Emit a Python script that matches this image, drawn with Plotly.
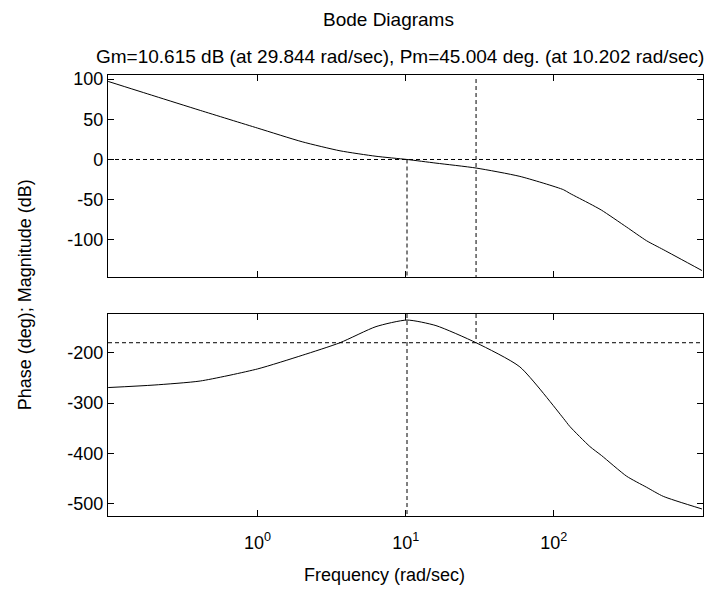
import plotly.graph_objects as go

# Open-loop frequency response (rad/sec, dB, deg)
freq = [0.098, 0.2, 0.41, 1.0, 2.0, 3.6, 6.3, 10.202, 16.0, 29.844,
        59.0, 116.0, 128.0, 175.0, 210.0, 310.0, 423.0, 548.0, 1000.0]
mag_db = [97, 79, 61, 39, 22, 10.8, 4, 0, -4.5, -10.615,
          -21, -37.5, -42, -55, -63, -84, -101, -112, -138]
phase_deg = [-269, -264, -256, -232, -205, -180, -148, -134.996, -146, -180,
             -228, -330, -346, -386, -404, -445, -467, -485, -510]

# Stability margins
gm_db = 10.615
w_cg = 29.844
pm_deg = 45.004
w_cp = 10.202

mag_ticks = [100, 50, 0, -50, -100]
phase_ticks = [-200, -300, -400, -500]
freq_ticks = [1, 10, 100]
freq_tick_text = ["10<sup>0</sup>", "10<sup>1</sup>", "10<sup>2</sup>"]

mag_range = [-146, 105]
phase_range = [-524, -123]
logw_range = [-1.01, 3.007]

FONT = "Liberation Sans, Arial, sans-serif"
INK = "#000000"

fig = go.Figure()

line = dict(color=INK, width=1)
dash = dict(color=INK, width=1, dash="4px,3px")

fig.add_trace(go.Scatter(x=freq, y=mag_db, mode="lines", line=dict(line, shape="spline", smoothing=0.6),
                         xaxis="x", yaxis="y", hoverinfo="skip"))
fig.add_trace(go.Scatter(x=freq, y=phase_deg, mode="lines", line=dict(line, shape="spline", smoothing=0.6),
                         xaxis="x2", yaxis="y2", hoverinfo="skip"))

f_lo, f_hi = 10 ** logw_range[0], 10 ** logw_range[1]
# magnitude panel guides
fig.add_trace(go.Scatter(x=[f_lo, f_hi], y=[0, 0], mode="lines", line=dash, xaxis="x", yaxis="y"))
fig.add_trace(go.Scatter(x=[w_cp, w_cp], y=[0, mag_range[0]], mode="lines", line=dash, xaxis="x", yaxis="y"))
fig.add_trace(go.Scatter(x=[w_cg, w_cg], y=[mag_range[1] - 5, mag_range[0]], mode="lines", line=dash,
                         xaxis="x", yaxis="y"))
# phase panel guides
fig.add_trace(go.Scatter(x=[f_lo, f_hi], y=[-180, -180], mode="lines", line=dash, xaxis="x2", yaxis="y2"))
fig.add_trace(go.Scatter(x=[w_cp, w_cp], y=[phase_range[1], phase_range[0]], mode="lines", line=dash,
                         xaxis="x2", yaxis="y2"))
fig.add_trace(go.Scatter(x=[w_cg, w_cg], y=[phase_range[1], -180], mode="lines", line=dash,
                         xaxis="x2", yaxis="y2"))

axis_common = dict(showline=True, linecolor=INK, linewidth=1.2, mirror="ticks", ticks="inside",
                   ticklen=6, tickcolor=INK, tickwidth=1, showgrid=False, zeroline=False,
                   tickfont=dict(family=FONT, size=18, color=INK))

fig.update_layout(
    width=717, height=589,
    margin=dict(l=108, r=14, t=75, b=73),
    paper_bgcolor="white", plot_bgcolor="white",
    showlegend=False,
    xaxis=dict(axis_common, type="log", range=logw_range, domain=[0, 1], anchor="y",
               tickvals=freq_ticks, ticktext=["", "", ""]),
    yaxis=dict(axis_common, range=mag_range, domain=[0.542, 1], anchor="x",
               tickvals=mag_ticks, ticktext=[str(v) for v in mag_ticks]),
    xaxis2=dict(axis_common, type="log", range=logw_range, domain=[0, 1], anchor="y2",
                tickvals=freq_ticks, ticktext=freq_tick_text, ticklabelstandoff=10),
    yaxis2=dict(axis_common, range=phase_range, domain=[0, 0.458], anchor="x2",
                tickvals=phase_ticks, ticktext=[str(v) for v in phase_ticks]),
)

subtitle = "Gm=%.3f dB (at %.3f rad/sec), Pm=%.3f deg. (at %.3f rad/sec)" % (gm_db, w_cg, pm_deg, w_cp)

annots = [
    dict(text="Bode Diagrams", x=0.472, y=1.125, size=19),
    dict(text=subtitle, x=0.491, y=1.041, size=19),
    dict(text="Frequency (rad/sec)", x=0.464, y=-0.134, size=18),
]
for a in annots:
    fig.add_annotation(text=a["text"], x=a["x"], y=a["y"], xref="paper", yref="paper",
                       showarrow=False, xanchor="center", yanchor="middle",
                       font=dict(family=FONT, size=a["size"], color=INK))
fig.add_annotation(text="Phase (deg); Magnitude (dB)", x=-0.139, y=0.501, xref="paper", yref="paper",
                   showarrow=False, textangle=-90, xanchor="center", yanchor="middle",
                   font=dict(family=FONT, size=18, color=INK))

fig.write_html("out.html")
